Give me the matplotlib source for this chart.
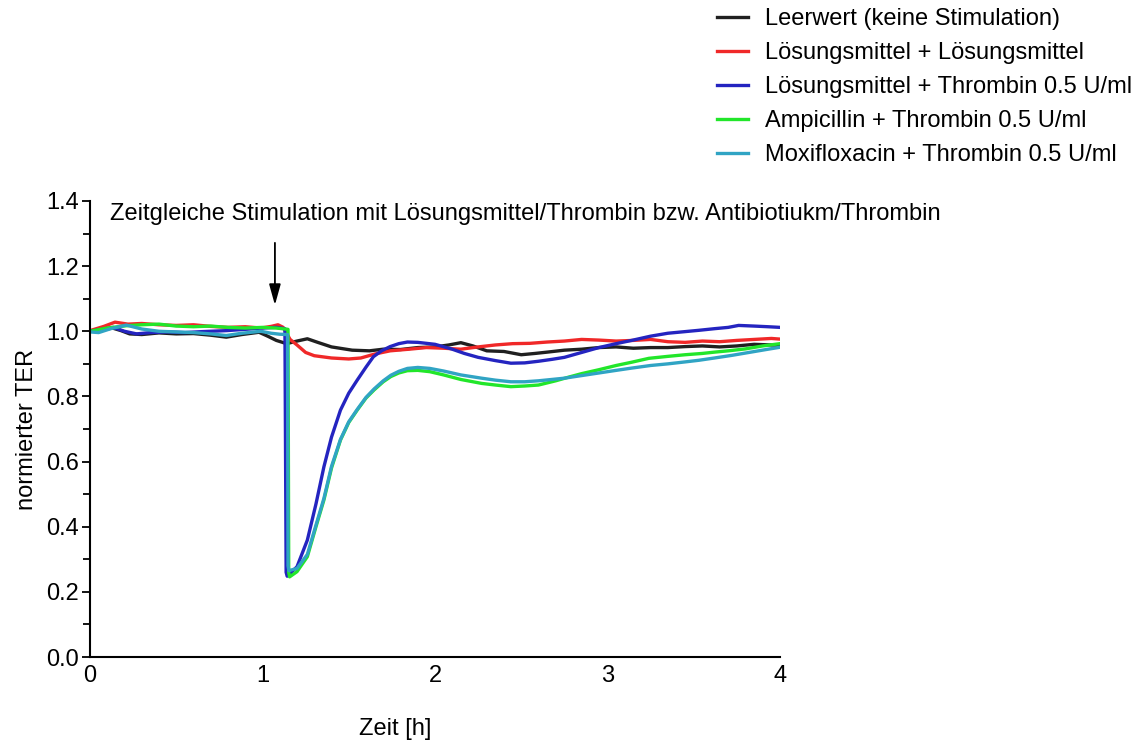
import matplotlib
matplotlib.use("Agg")
import matplotlib.pyplot as plt
from matplotlib.ticker import MultipleLocator

plt.rcParams['font.family'] = ['Liberation Sans', 'DejaVu Sans']

labels = ["Leerwert (keine Stimulation)",
          "Lösungsmittel + Lösungsmittel",
          "Lösungsmittel + Thrombin 0.5 U/ml",
          "Ampicillin + Thrombin 0.5 U/ml",
          "Moxifloxacin + Thrombin 0.5 U/ml"]
colors = ["#202020", "#f02828", "#2424c0", "#22e62a", "#30a4c4"]

t_black = [0.00, 0.06, 0.13, 0.18, 0.23, 0.30, 0.40, 0.50, 0.60, 0.70, 0.79, 0.88, 0.98, 1.03, 1.08,
           1.14, 1.20, 1.26, 1.32, 1.40, 1.52, 1.62, 1.70, 1.80, 1.90, 2.00, 2.08, 2.15, 2.22, 2.30,
           2.40, 2.50, 2.58, 2.65, 2.75, 2.85, 2.95, 3.05, 3.15, 3.25, 3.35, 3.45, 3.55, 3.65, 3.75,
           3.85, 3.95, 4.00]
v_black = [1.000, 1.003, 1.010, 1.002, 0.992, 0.990, 0.995, 0.992, 0.993, 0.988, 0.982, 0.990, 0.997,
           0.985, 0.972, 0.962, 0.970, 0.977, 0.966, 0.952, 0.942, 0.940, 0.945, 0.944, 0.950, 0.952,
           0.958, 0.965, 0.955, 0.940, 0.938, 0.928, 0.932, 0.936, 0.942, 0.945, 0.950, 0.952, 0.948,
           0.950, 0.950, 0.953, 0.955, 0.952, 0.955, 0.960, 0.958, 0.957]

t_red = [0.00, 0.08, 0.145, 0.22, 0.30, 0.40, 0.50, 0.60, 0.70, 0.80, 0.90, 0.99, 1.05, 1.09, 1.12,
         1.16, 1.20, 1.25, 1.30, 1.40, 1.50, 1.57, 1.65, 1.74, 1.85, 1.95, 2.05, 2.15, 2.25, 2.35,
         2.45, 2.55, 2.65, 2.75, 2.85, 2.95, 3.05, 3.15, 3.25, 3.35, 3.45, 3.55, 3.65, 3.75, 3.85,
         3.95, 4.00]
v_red = [1.002, 1.015, 1.028, 1.022, 1.024, 1.020, 1.018, 1.020, 1.015, 1.012, 1.014, 1.010, 1.015,
         1.020, 1.012, 0.975, 0.958, 0.935, 0.925, 0.918, 0.915, 0.918, 0.930, 0.940, 0.945, 0.950,
         0.948, 0.945, 0.952, 0.958, 0.962, 0.963, 0.967, 0.970, 0.975, 0.973, 0.970, 0.972, 0.975,
         0.968, 0.966, 0.970, 0.968, 0.972, 0.975, 0.978, 0.976]

t_blue = [0.00, 0.07, 0.135, 0.20, 0.27, 0.35, 0.45, 0.55, 0.65, 0.79, 0.90, 1.00, 1.08, 1.13, 1.137,
          1.143, 1.20, 1.26, 1.31, 1.356, 1.40, 1.452, 1.50, 1.549, 1.60, 1.643, 1.69, 1.74, 1.79,
          1.84, 1.90, 2.00, 2.10, 2.17, 2.25, 2.35, 2.44, 2.52, 2.60, 2.68, 2.75, 2.85, 2.95, 3.05,
          3.14, 3.25, 3.35, 3.45, 3.53, 3.62, 3.70, 3.76, 3.85, 3.93, 4.00]
v_blue = [1.000, 1.006, 1.012, 1.000, 0.992, 0.996, 0.998, 0.996, 0.999, 1.002, 1.006, 1.010, 1.012,
          1.008, 0.260, 0.248, 0.277, 0.359, 0.470, 0.584, 0.675, 0.758, 0.810, 0.850, 0.890, 0.922,
          0.940, 0.953, 0.962, 0.967, 0.966, 0.960, 0.945, 0.932, 0.920, 0.910, 0.902, 0.903, 0.908,
          0.914, 0.920, 0.935, 0.950, 0.962, 0.972, 0.985, 0.994, 0.999, 1.003, 1.008, 1.012, 1.018,
          1.016, 1.014, 1.012]

t_green = [0.00, 0.10, 0.21, 0.30, 0.40, 0.50, 0.60, 0.70, 0.80, 0.90, 1.00, 1.08, 1.148, 1.152,
           1.157, 1.20, 1.26, 1.31, 1.356, 1.40, 1.452, 1.50, 1.549, 1.60, 1.647, 1.70, 1.744, 1.79,
           1.84, 1.90, 1.97, 2.05, 2.15, 2.27, 2.35, 2.44, 2.52, 2.60, 2.70, 2.78, 2.85, 2.95, 3.05,
           3.14, 3.24, 3.35, 3.45, 3.55, 3.62, 3.70, 3.80, 3.90, 4.00]
v_green = [1.000, 1.010, 1.017, 1.020, 1.022, 1.016, 1.014, 1.016, 1.012, 1.010, 1.012, 1.010, 1.006,
           0.260, 0.246, 0.262, 0.308, 0.400, 0.482, 0.580, 0.666, 0.720, 0.758, 0.795, 0.820, 0.845,
           0.861, 0.872, 0.879, 0.880, 0.876, 0.866, 0.852, 0.840, 0.835, 0.830, 0.832, 0.835, 0.848,
           0.860, 0.870, 0.882, 0.895, 0.905, 0.917, 0.923, 0.928, 0.932, 0.936, 0.940, 0.946, 0.955,
           0.962]

t_cyan = [0.00, 0.05, 0.12, 0.21, 0.30, 0.40, 0.50, 0.60, 0.70, 0.79, 0.88, 0.99, 1.05, 1.10, 1.145,
          1.148, 1.153, 1.20, 1.26, 1.31, 1.356, 1.40, 1.452, 1.50, 1.549, 1.60, 1.647, 1.70, 1.744,
          1.79, 1.84, 1.90, 1.97, 2.05, 2.15, 2.27, 2.35, 2.44, 2.52, 2.60, 2.75, 2.85, 2.95, 3.05,
          3.14, 3.25, 3.35, 3.45, 3.53, 3.62, 3.72, 3.82, 3.92, 4.00]
v_cyan = [0.998, 0.996, 1.008, 1.019, 1.007, 1.000, 0.998, 0.996, 0.992, 0.987, 0.994, 1.000, 0.994,
          0.991, 0.990, 0.280, 0.265, 0.272, 0.315, 0.405, 0.487, 0.585, 0.668, 0.722, 0.760, 0.797,
          0.823, 0.848, 0.865, 0.877, 0.886, 0.889, 0.886, 0.878, 0.866, 0.856, 0.850, 0.845, 0.845,
          0.848, 0.856, 0.864, 0.872, 0.880, 0.887, 0.895, 0.900, 0.906, 0.911, 0.918, 0.926, 0.935,
          0.944, 0.951]

series = [(t_black, v_black), (t_red, v_red), (t_blue, v_blue), (t_green, v_green), (t_cyan, v_cyan)]

annotation = "Zeitgleiche Stimulation mit Lösungsmittel/Thrombin bzw. Antibiotiukm/Thrombin"

FS = 17
fig = plt.figure(figsize=(11.36, 7.42), dpi=100)
ax = fig.add_axes([90/1136, 1-657/742, 690/1136, 456/742])

for (t, v), c, lab in zip(series, colors, labels):
    ax.plot(t, v, color=c, lw=2.4, label=lab)

ax.set_xlim(0, 4)
ax.set_ylim(0, 1.4)
ax.set_xticks([0, 1, 2, 3, 4])
ax.yaxis.set_major_locator(MultipleLocator(0.2))
ax.yaxis.set_minor_locator(MultipleLocator(0.1))
ax.yaxis.set_major_formatter(matplotlib.ticker.FormatStrFormatter('%.1f'))
ax.tick_params(axis='x', length=0, pad=6, labelsize=FS)
ax.tick_params(axis='y', which='major', length=6, width=1.3, labelsize=FS, pad=2)
ax.tick_params(axis='y', which='minor', length=5, width=1.3)
for s in ['top', 'right']:
    ax.spines[s].set_visible(False)
for s in ['left', 'bottom']:
    ax.spines[s].set_linewidth(1.5)

ax.set_xlabel("Zeit [h]", fontsize=FS)
ax.xaxis.set_label_coords(0.442, -0.134)
ax.set_ylabel("normierter TER", fontsize=FS, labelpad=6)

ax.text(0.116, 1.36, annotation, fontsize=FS, va='center', ha='left')
ax.annotate("", xy=(1.072, 1.072), xytext=(1.072, 1.28),
            arrowprops=dict(arrowstyle='-|>,head_width=0.25,head_length=0.9', color='black',
                            lw=1.3, mutation_scale=14))

fig.legend(loc='upper left', bbox_to_anchor=(717/1136, 1-8/742), frameon=False,
           fontsize=FS, handlelength=1.3, handletextpad=0.72, labelspacing=0.51,
           borderaxespad=0, borderpad=0)

fig.savefig("out.png", dpi=100)
